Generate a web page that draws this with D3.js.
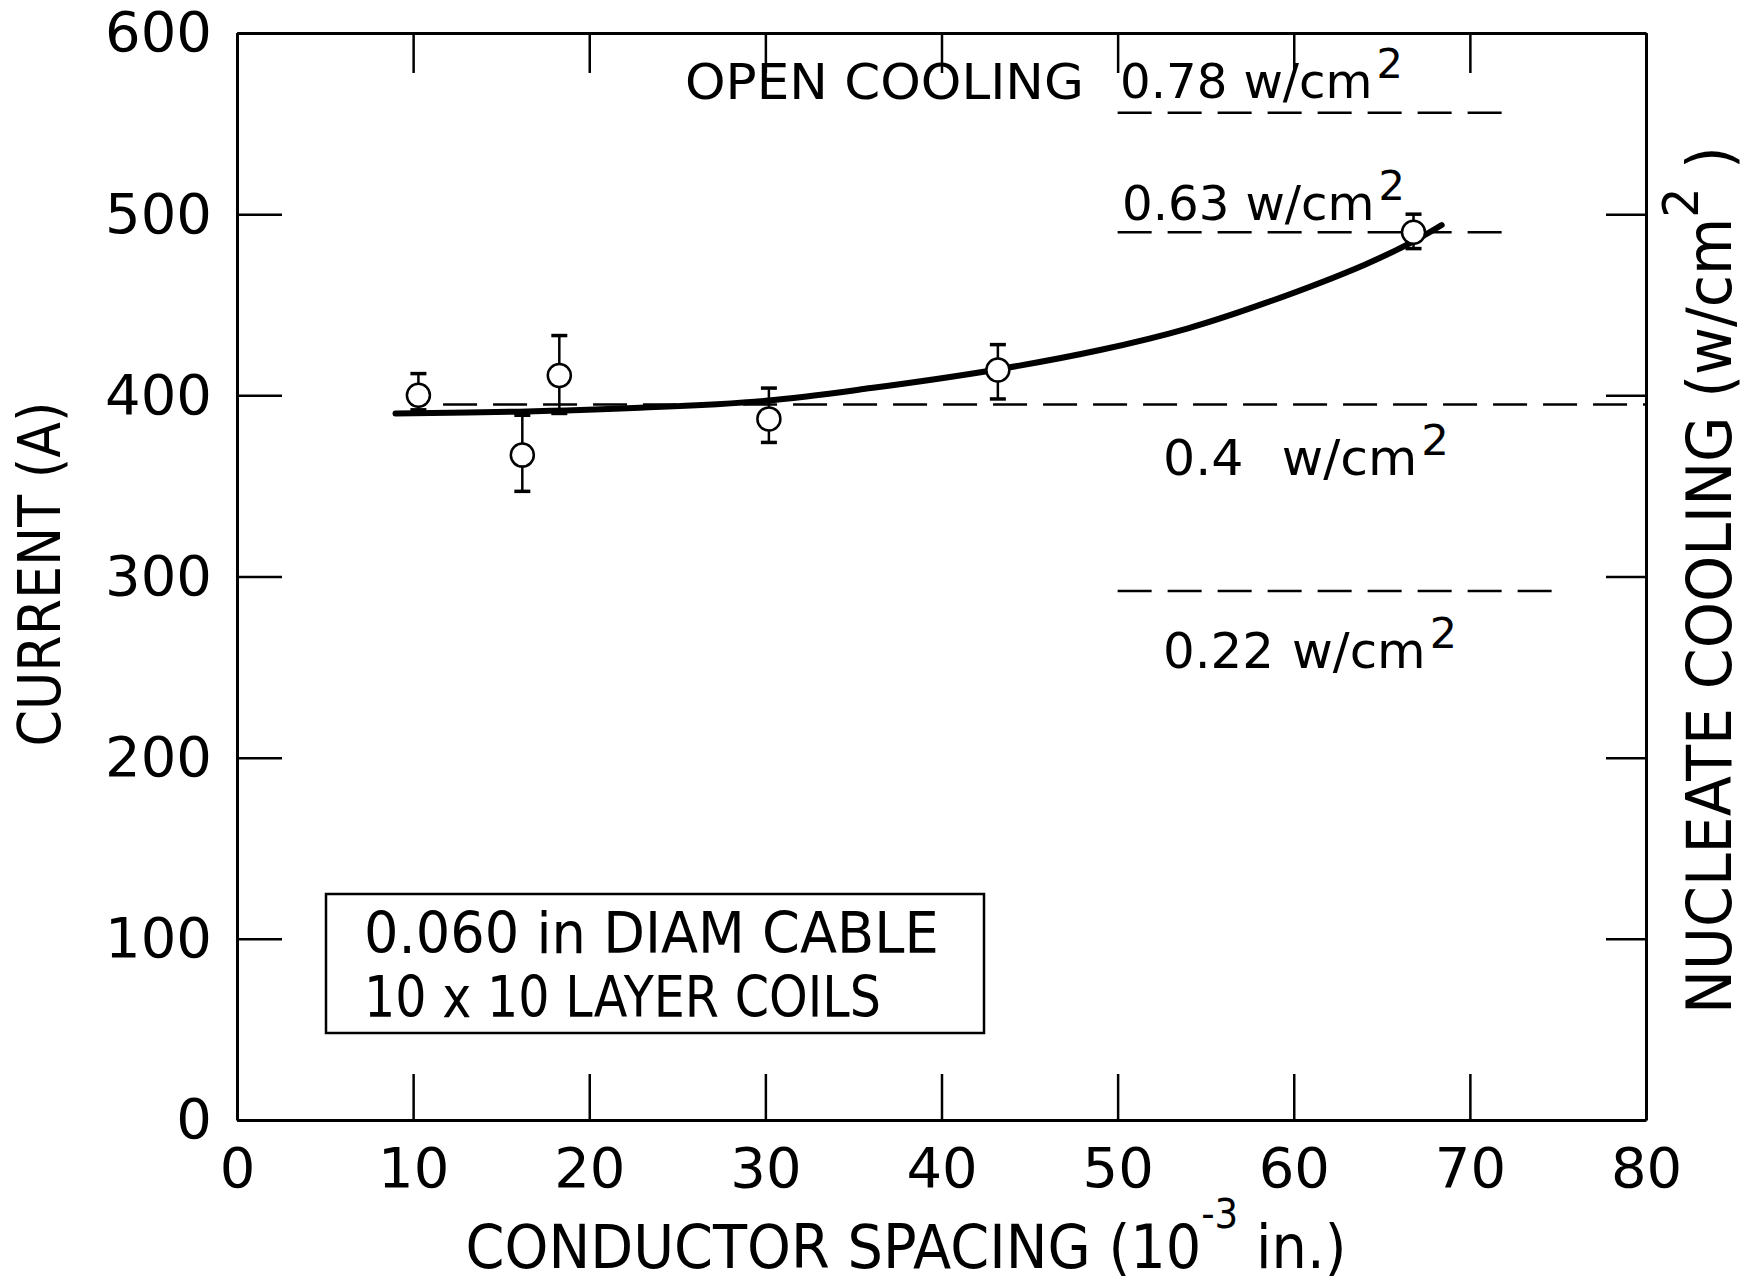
<!DOCTYPE html>
<html><head><meta charset="utf-8">
<script src="https://cdn.jsdelivr.net/npm/d3@7"></script>
<style>
html,body{margin:0;padding:0;background:#fff;}
svg{display:block;}
text{font-family:"DejaVu Sans",sans-serif;fill:#000;}
</style></head><body>
<svg id="c" width="1756" height="1284"></svg>
<script>
// ---- data ----
const spacing = [10.3, 16.2, 18.3, 30.2, 43.2, 66.8];
const current = [400, 367, 411, 387, 414, 490];
const errLow  = [392, 347, 390, 374, 398, 481];
const errHigh = [412, 389, 433, 404, 428, 500];

const fitX = [9, 16, 22.5, 30, 36, 43, 49, 54, 58.4, 64, 66.8, 68.4];
const fitY = [390, 391, 393, 397, 404, 414, 425, 437, 451, 472, 485, 494];

const levelNames   = ["0.78", "0.63", "0.4", "0.22"];
const levelCurrent = [556, 490, 395, 292];
const levelStart   = [50, 50, 11.7, 50];
const levelEnd     = [72.3, 72.3, 80, 74.8];

const xTickValues = [0, 10, 20, 30, 40, 50, 60, 70, 80];
const yTickValues = [0, 100, 200, 300, 400, 500, 600];

const legendLines = ["0.060 in DIAM CABLE", "10 x 10 LAYER COILS"];

// ---- chart ----
const svg = d3.select("#c");
const x = d3.scaleLinear([0, 80], [237, 1646]);
const y = d3.scaleLinear([0, 600], [1120, 33]);

function styleAxis(g, fs) {
  g.attr("font-family", null).attr("font-size", null);
  g.select(".domain").attr("stroke", "#000").attr("stroke-width", 3);
  g.selectAll(".tick line").attr("stroke", "#000").attr("stroke-width", 2.5);
  g.selectAll(".tick text").style("font-family", '"DejaVu Sans", sans-serif').style("font-size", fs + "px");
}

const gB = svg.append("g").attr("transform", "translate(0,1120)")
  .call(d3.axisBottom(x).tickValues(xTickValues).tickSizeInner(-46).tickSizeOuter(0).tickPadding(27).tickFormat(d3.format("d")));
styleAxis(gB, 56);
const gT = svg.append("g").attr("transform", "translate(0,33)")
  .call(d3.axisTop(x).tickValues(xTickValues).tickSizeInner(-40).tickSizeOuter(0).tickFormat(""));
styleAxis(gT, 56);
const gL = svg.append("g").attr("transform", "translate(237,0)")
  .call(d3.axisLeft(y).tickValues(yTickValues).tickSizeInner(-45).tickSizeOuter(0).tickPadding(25).tickFormat(d3.format("d")));
styleAxis(gL, 56);
const gR = svg.append("g").attr("transform", "translate(1646,0)")
  .call(d3.axisRight(y).tickValues(yTickValues).tickSizeInner(-40).tickSizeOuter(0).tickFormat(""));
styleAxis(gR, 56);

// dashed cooling levels
svg.append("g").selectAll("line").data(levelCurrent).join("line")
  .attr("x1", (d, i) => x(levelStart[i])).attr("x2", (d, i) => x(levelEnd[i]))
  .attr("y1", d => y(d)).attr("y2", d => y(d))
  .attr("stroke", "#000").attr("stroke-width", 2.5).attr("stroke-dasharray", "34 16");

// fitted curve
const line = d3.line().x(d => x(d[0])).y(d => y(d[1])).curve(d3.curveCatmullRom.alpha(0.5));
svg.append("path").datum(fitX.map((v, i) => [v, fitY[i]]))
  .attr("d", line).attr("fill", "none").attr("stroke", "#000").attr("stroke-width", 6)
  .attr("stroke-linecap", "round");

// error bars and points
const pts = spacing.map((v, i) => ({x: v, y: current[i], lo: errLow[i], hi: errHigh[i]}));
const ge = svg.append("g");
ge.selectAll("line.v").data(pts).join("line").attr("class", "v")
  .attr("x1", d => x(d.x)).attr("x2", d => x(d.x)).attr("y1", d => y(d.lo)).attr("y2", d => y(d.hi))
  .attr("stroke", "#000").attr("stroke-width", 2.5);
ge.selectAll("line.ch").data(pts).join("line").attr("class", "ch")
  .attr("x1", d => x(d.x) - 8).attr("x2", d => x(d.x) + 8).attr("y1", d => y(d.hi)).attr("y2", d => y(d.hi))
  .attr("stroke", "#000").attr("stroke-width", 3.5);
ge.selectAll("line.cl").data(pts).join("line").attr("class", "cl")
  .attr("x1", d => x(d.x) - 8).attr("x2", d => x(d.x) + 8).attr("y1", d => y(d.lo)).attr("y2", d => y(d.lo))
  .attr("stroke", "#000").attr("stroke-width", 3.5);
ge.selectAll("circle").data(pts).join("circle")
  .attr("cx", d => x(d.x)).attr("cy", d => y(d.y)).attr("r", 11.5)
  .attr("fill", "#fff").attr("stroke", "#000").attr("stroke-width", 2.5);

// text helper: scale horizontally to a target width
function fitWidth(textSel, target) {
  const w = textSel.node().getBBox().width;
  textSel.attr("transform", `scale(${target / w},1)`);
}

// OPEN COOLING
const tOpen = svg.append("g").attr("transform", "translate(685,99)")
  .append("text").style("font-size", "50px").text("OPEN COOLING");
fitWidth(tOpen, 399);

// level labels
function levelLabel(px, py, val, gap, fs, target) {
  const g = svg.append("g").attr("transform", `translate(${px},${py})`);
  const t = g.append("text").style("font-size", fs + "px");
  t.append("tspan").text(val);
  t.append("tspan").attr("dx", gap).text("w/cm");
  t.append("tspan").attr("dx", 4).attr("dy", -20).style("font-size", (fs * 0.86) + "px").text("2");
  if (target) fitWidth(t, target);
}
levelLabel(1120, 98, levelNames[0], 16, 48, 283);
levelLabel(1122, 220, levelNames[1], 16, 48, 283);
levelLabel(1163, 475, levelNames[2], 38, 50, 286);
levelLabel(1163, 668, levelNames[3], 18, 50, 294);

// legend box
svg.append("rect").attr("x", 326).attr("y", 894).attr("width", 658).attr("height", 139)
  .attr("fill", "#fff").attr("stroke", "#000").attr("stroke-width", 2.5);
const lg1 = svg.append("g").attr("transform", "translate(364,953)")
  .append("text").style("font-size", "57px").text(legendLines[0]);
fitWidth(lg1, 575);
const lg2 = svg.append("g").attr("transform", "translate(364,1017)")
  .append("text").style("font-size", "57px").text(legendLines[1]);
fitWidth(lg2, 517);

// x title
const xt = svg.append("g").attr("transform", "translate(906,1268)")
  .append("text").attr("text-anchor", "middle").style("font-size", "60px");
xt.append("tspan").text("CONDUCTOR SPACING (10");
xt.append("tspan").attr("dy", -40).style("font-size", "40px").text("-3");
xt.append("tspan").attr("dy", 40).text(" in.)");
fitWidth(xt, 881);

// left y title
const yt = svg.append("g").attr("transform", "translate(60,574) rotate(-90)")
  .append("text").attr("text-anchor", "middle").style("font-size", "59px").text("CURRENT (A)");
fitWidth(yt, 345);

// right y title
const rt = svg.append("g").attr("transform", "translate(1731,580) rotate(-90)")
  .append("text").attr("text-anchor", "middle").style("font-size", "62px");
rt.append("tspan").text("NUCLEATE COOLING (w/cm");
rt.append("tspan").attr("dy", -33).style("font-size", "50px").text("2");
rt.append("tspan").attr("dy", 33).text(" )");
fitWidth(rt, 868);
</script>
</body></html>
